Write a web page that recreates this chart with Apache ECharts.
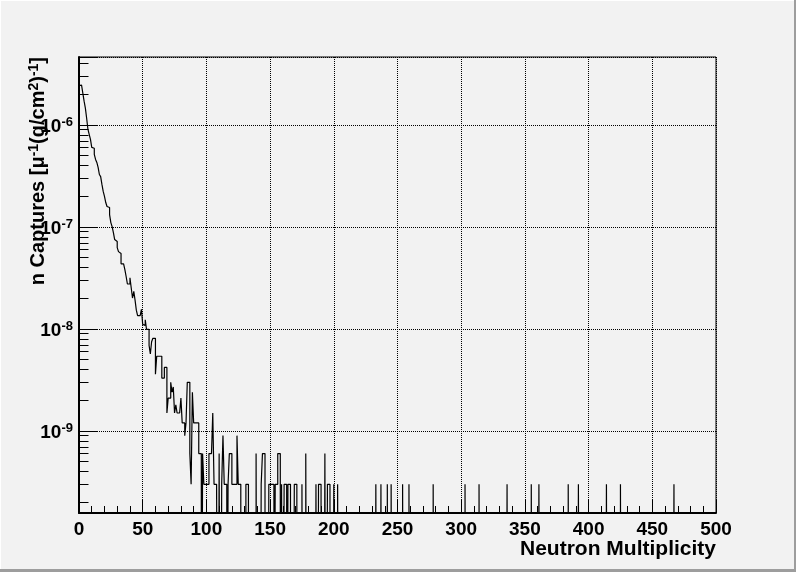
<!DOCTYPE html>
<html>
<head>
<meta charset="utf-8">
<script src="https://cdn.jsdelivr.net/npm/echarts@6/dist/echarts.min.js"></script>
<style>
html, body { margin: 0; padding: 0; background: #f2f2f2; }
#wrap { position: relative; width: 796px; height: 572px; overflow: hidden; }
#chart { position: absolute; left: 0; top: 0; width: 796px; height: 572px; }
.edge { position: absolute; pointer-events: none; }
</style>
</head>
<body>
<div id="wrap">
  <div id="chart"></div>
  <div class="edge" style="left:0;top:0;width:796px;height:1px;background:#ffffff"></div>
  <div class="edge" style="left:0;top:0;width:1px;height:572px;background:#ffffff"></div>
  <div class="edge" style="left:794px;top:0;width:2px;height:572px;background:#9d9d9d"></div>
  <div class="edge" style="left:0;top:569px;width:796px;height:3px;background:#9d9d9d"></div>
</div>
<script>
// ---- data (entries per bin, bin width = 1) ----
const headCounts = [
  8100, 8200, 8400, 6840, 5700, 4870, 3880, 3030, 2700, 2410,
  2010, 1970, 1720, 1530, 1430, 1280, 1090, 1040, 871, 744,
  664, 579, 529, 517, 441, 368, 336, 294, 251, 240,
  209, 191, 183, 145, 145, 140, 127, 109, 92, 92,
  106, 84, 67, 78, 64, 51, 45, 45, 45, 52,
  37, 36, 41, 33, 33, 23, 19, 25, 27, 27,
  12, 18, 18, 18, 18, 11, 11, 14, 14, 5,
  7, 7, 10, 8, 9, 5, 6, 5, 5, 5,
  7, 4, 4, 3, 4, 10, 10
];
const tailBins = [
  87, 88, 89, 90, 91, 92, 93, 94, 95, 97, 98, 99, 100, 101, 102, 103, 104, 105,
  106, 107, 108, 110, 112, 113, 114, 115, 117, 118, 119, 120, 121, 122, 123, 124,
  125, 126, 131, 132, 139, 143, 144, 145, 149, 150, 151, 152, 154, 155, 156, 157,
  159, 161, 162, 164, 165, 169, 170, 175, 178, 186, 188, 189, 193, 195, 196, 200,
  203, 233, 237, 242, 245, 254, 259, 278, 303, 314, 336, 355, 361, 384, 392, 414,
  425, 467
];
const tailCounts = [
  2, 1, 8, 4, 4, 4, 4, 2, 2, 2, 1, 1, 1, 1, 2, 2, 2, 5,
  1, 1, 1, 2, 1, 3, 1, 1, 1, 2, 2, 1, 1, 1, 1, 3,
  1, 1, 1, 1, 2, 1, 2, 2, 1, 1, 1, 1, 1, 1, 2, 2,
  1, 1, 1, 1, 1, 1, 1, 1, 2, 1, 1, 1, 2, 1, 1, 1,
  1, 1, 1, 1, 1, 1, 1, 1, 1, 1, 1, 1, 1, 1, 1, 1,
  1, 1
];
const entryWeight = 3.02e-10;      // n Captures per entry [mu^-1 (g/cm^2)^-1]
const nBins = 500;
const xRange = [0, 500];
const xTickStep = 50;
const yRange = [1.58e-10, 4.67e-6];
const yMinorMantissas = [2, 3, 4, 5, 6, 7, 8, 9];
const yDecades = [-10, -9, -8, -7, -6];
const xTitle = 'Neutron Multiplicity';

// ---- build histogram ----
const counts = new Array(nBins).fill(0);
headCounts.forEach((c, i) => { counts[i] = c; });
tailBins.forEach((b, i) => { counts[b] = tailCounts[i]; });
const EMPTY = 1e-14; // empty bins fall below the frame (clipped)
const histData = [];
for (let i = 0; i < nBins; i++) {
  histData.push([i, counts[i] > 0 ? counts[i] * entryWeight : EMPTY]);
}
histData.push([nBins, histData[nBins - 1][1]]);

const minorTickData = [];
yDecades.forEach(d => yMinorMantissas.forEach(m => {
  const v = m * Math.pow(10, d);
  if (v > yRange[0] && v < yRange[1]) minorTickData.push([0, v]);
}));

const FONT = '"Liberation Sans", Arial, Helvetica, sans-serif';
const chart = echarts.init(document.getElementById('chart'), null, { renderer: 'canvas' });

chart.setOption({
  backgroundColor: '#f2f2f2',
  animation: false,
  grid: {
    left: 79, top: 57, width: 637, height: 456,
    show: true, borderColor: '#000', borderWidth: 1, backgroundColor: 'transparent'
  },
  xAxis: {
    type: 'value', min: xRange[0], max: xRange[1], interval: xTickStep,
    axisLine: { show: true, onZero: false, lineStyle: { color: '#000', width: 2 } },
    axisTick: { show: true, inside: true, length: 14, lineStyle: { color: '#000', width: 1 } },
    minorTick: { show: true, splitNumber: 5, length: 7, lineStyle: { color: '#000', width: 1 } },
    axisLabel: { color: '#000', fontFamily: FONT, fontWeight: 'bold', fontSize: 19, margin: 7 },
    splitLine: { show: true, lineStyle: { color: '#000', width: 1, type: [1, 1] } }
  },
  yAxis: {
    type: 'log', logBase: 10, min: yRange[0], max: yRange[1],
    axisLine: { show: true, lineStyle: { color: '#000', width: 2 } },
    axisTick: { show: true, inside: true, length: 19, lineStyle: { color: '#000', width: 1 } },
    minorTick: { show: false },
    axisLabel: {
      show: true, margin: 6, color: '#000',
      showMinLabel: true, showMaxLabel: true,
      formatter: function (v) {
        const e = Math.log10(v);
        const n = Math.round(e);
        if (Math.abs(e - n) > 1e-6) return '';
        return '{b|10}{s|' + n + '}';
      },
      rich: {
        b: { fontFamily: FONT, fontWeight: 'bold', fontSize: 19, lineHeight: 19, color: '#000', padding: [3, 0, 0, 0] },
        s: { fontFamily: FONT, fontWeight: 'bold', fontSize: 13, lineHeight: 8, color: '#000', verticalAlign: 'top' }
      }
    },
    splitLine: { show: true, lineStyle: { color: '#000', width: 1, type: [1, 1] } }
  },
  series: [
    {
      type: 'line', step: 'end', data: histData,
      symbol: 'none', showSymbol: false, clip: true, z: 5,
      lineStyle: { color: '#000', width: 1.2 }
    },
    {
      type: 'custom', coordinateSystem: 'cartesian2d', data: minorTickData, clip: true, silent: true, z: 6,
      renderItem: function (params, api) {
        const p = api.coord([api.value(0), api.value(1)]);
        const y = Math.round(p[1] - 0.5) + 0.5;
        return {
          type: 'line',
          shape: { x1: p[0], y1: y, x2: p[0] + 9.5, y2: y },
          style: { stroke: '#000', lineWidth: 1 }
        };
      }
    }
  ],
  graphic: [
    {
      type: 'text', right: 80, top: 539, z: 10,
      style: { text: xTitle, fill: '#000', font: 'bold 21px ' + FONT }
    },
    {
      type: 'text', x: 38, y: 57, rotation: Math.PI / 2, z: 10,
      style: {
        text: '{t|n Captures [\u03bc}{s|-1}{t|(g/cm}{s|2}{t|)}{s|-1}{t|]}',
        align: 'right', verticalAlign: 'middle',
        rich: {
          t: { fontFamily: FONT, fontWeight: 'bold', fontSize: 20, lineHeight: 22, fill: '#000' },
          s: { fontFamily: FONT, fontWeight: 'bold', fontSize: 14, lineHeight: 10, fill: '#000', verticalAlign: 'top' }
        }
      }
    }
  ]
});
</script>
</body>
</html>
